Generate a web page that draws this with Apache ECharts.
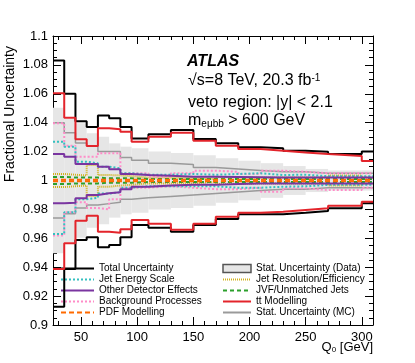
<!DOCTYPE html>
<html>
<head>
<meta charset="utf-8">
<script src="https://cdn.jsdelivr.net/npm/echarts@6/dist/echarts.min.js"></script>
<style>
  html, body { margin: 0; padding: 0; background: #fff; }
  #chart { width: 415px; height: 363px; }
</style>
</head>
<body>
<div id="chart"></div>
<script>
// bin edges of Q0 [GeV]
const binEdges = [25, 35, 45, 55, 65, 75, 85, 95, 110, 130, 150, 170, 190, 210, 230, 250, 270, 300, 310];

// upper / lower edges of each component, one value per bin
const totalUp = [1.083, 1.060, 1.041, 1.037, 1.045, 1.043, 1.037, 1.029, 1.032, 1.035, 1.0287, 1.0257, 1.023, 1.0223, 1.0206, 1.0199, 1.0183, 1.020];
const totalDn = [0.9127, 0.9388, 0.9588, 0.9607, 0.9538, 0.9554, 0.9607, 0.9692, 0.9673, 0.9646, 0.9692, 0.9734, 0.9766, 0.9766, 0.9777, 0.9789, 0.9808, 0.9842];
const ttUp = [1.0603, 1.0435, 1.0285, 1.0239, 1.0361, 1.0354, 1.0338, 1.0269, 1.0303, 1.033, 1.0275, 1.0241, 1.0218, 1.0206, 1.0193, 1.0183, 1.017, 1.0135];
const ttDn = [0.9388, 0.9565, 0.9722, 0.9756, 0.9646, 0.9639, 0.9662, 0.9727, 0.970, 0.966, 0.970, 0.975, 0.9777, 0.9784, 0.9796, 0.9808, 0.9826, 0.9853];
const statDataUp = [1.0504, 1.0425, 1.0396, 1.0327, 1.0303, 1.0257, 1.0234, 1.0223, 1.020, 1.019, 1.0175, 1.0154, 1.0137, 1.012, 1.010, 1.008, 1.007, 1.007];
const statDataDn = [0.9496, 0.9575, 0.9604, 0.9673, 0.9697, 0.9743, 0.9766, 0.9777, 0.980, 0.981, 0.9825, 0.9846, 0.9863, 0.988, 0.990, 0.992, 0.993, 0.993];
const statMCUp = [1.040, 1.033, 1.026, 1.024, 1.020, 1.020, 1.016, 1.014, 1.012, 1.011, 1.009, 1.008, 1.007, 1.006, 1.006, 1.005, 1.005, 1.005];
const statMCDn = [0.974, 0.977, 0.981, 0.983, 0.984, 0.985, 0.987, 0.988, 0.989, 0.990, 0.991, 0.992, 0.993, 0.994, 0.994, 0.995, 0.995, 0.995];
const bkgUp = [1.0396, 1.024, 1.0165, 1.0165, 1.0188, 1.0188, 1.005, 1.005, 1.0026, 1.005, 1.0068, 1.006, 1.0045, 1.0068, 1.006, 1.005, 1.005, 1.005];
const bkgDn = [0.962, 0.978, 0.985, 0.981, 0.980, 0.987, 0.995, 0.995, 0.996, 0.995, 0.994, 0.994, 0.995, 0.9923, 0.9946, 0.9934, 0.9934, 0.995];
const jesUp = [1.0269, 1.0234, 1.013, 1.0119, 1.0096, 1.0084, 1.005, 1.004, 1.004, 1.0045, 1.004, 1.0045, 1.005, 1.0038, 1.004, 1.003, 1.003, 1.003];
const jesDn = [0.963, 0.978, 0.987, 0.988, 0.991, 0.992, 0.995, 0.996, 0.996, 0.996, 0.996, 0.995, 0.995, 0.9957, 0.996, 0.997, 0.997, 0.997];
const detUp = [1.0183, 1.0165, 1.0114, 1.0114, 1.0096, 1.0078, 1.0045, 1.0038, 1.0033, 1.0026, 1.0026, 1.0024, 1.0022, 1.002, 1.002, 1.002, 1.002, 1.002];
const detDn = [0.9842, 0.9846, 0.9877, 0.990, 0.9911, 0.9918, 0.9939, 0.9957, 0.9965, 0.997, 0.997, 0.9975, 0.998, 0.998, 0.998, 0.998, 0.998, 0.998];
const jerUp = [1.0045, 1.004, 1.0035, 1.0107, 1.0038, 1.0035, 1.003, 1.002, 1.002, 1.002, 1.001, 1.0025, 1.002, 1.002, 1.002, 1.002, 1.0035, 1.002];
const jerDn = [0.9955, 0.996, 0.9965, 0.9893, 0.9957, 0.9965, 0.997, 0.998, 0.998, 0.998, 0.999, 0.9975, 0.998, 0.998, 0.998, 0.998, 0.9965, 0.998];
const jvfUp = [1.0025, 1.002, 1.002, 1.002, 1.0015, 1.0015, 1.0015, 1.001, 1.001, 1.001, 1.001, 1.001, 1.001, 1.001, 1.001, 1.001, 1.001, 1.001];
const jvfDn = [0.9975, 0.998, 0.998, 0.998, 0.9985, 0.9985, 0.9985, 0.999, 0.999, 0.999, 0.999, 0.999, 0.999, 0.999, 0.999, 0.999, 0.999, 0.999];
const pdfUp = [1.0005, 1.0005, 1.0005, 1.0005, 1.0005, 1.0005, 1.0005, 1.0005, 1.0005, 1.0005, 1.0005, 1.0005, 1.0005, 1.0005, 1.0005, 1.0005, 1.0005, 1.0005];
const pdfDn = [0.9995, 0.9995, 0.9995, 0.9995, 0.9995, 0.9995, 0.9995, 0.9995, 0.9995, 0.9995, 0.9995, 0.9995, 0.9995, 0.9995, 0.9995, 0.9995, 0.9995, 0.9995];

const xMajor = [50, 100, 150, 200, 250, 300];
const xMinor = [30, 40, 60, 70, 80, 90, 110, 120, 130, 140, 160, 170, 180, 190, 210, 220, 230, 240, 260, 270, 280, 290, 310];

const font = "Liberation Sans, Arial, Helvetica, sans-serif";

// histogram -> points for a step line
function stepData(vals) {
  const d = vals.map((v, i) => [binEdges[i], v]);
  d.push([binEdges[binEdges.length - 1], vals[vals.length - 1]]);
  return d;
}

function histLine(name, vals, color, width, type, z) {
  return {
    name: name,
    type: "line",
    step: "end",
    data: stepData(vals),
    symbol: "none",
    silent: true,
    z: z,
    lineStyle: { color: color, width: width, type: type || "solid", cap: "butt" },
    itemStyle: { color: color },
  };
}

function pair(name, up, dn, color, width, type, z) {
  return [histLine(name, up, color, width, type, z), histLine(name, dn, color, width, type, z)];
}

const bandData = statDataUp.map((v, i) => [binEdges[i], binEdges[i + 1], v, statDataDn[i]]);

const chart = echarts.init(document.getElementById("chart"), null, { renderer: "canvas" });

const majorX = (pos, lbl) => ({
  type: "value", min: 25, max: 310, position: pos,
  axisLine: { show: true, onZero: false, lineStyle: { color: "#000", width: 1 } },
  axisTick: { show: true, inside: true, length: 8, customValues: xMajor, lineStyle: { color: "#000" } },
  axisLabel: { show: lbl, customValues: xMajor, color: "#000", fontSize: 13, fontFamily: font, margin: 6 },
  splitLine: { show: false },
});
const minorX = (pos) => ({
  type: "value", min: 25, max: 310, position: pos,
  axisLine: { show: false },
  axisTick: { show: true, inside: true, length: 4, customValues: xMinor, lineStyle: { color: "#000" } },
  axisLabel: { show: false },
  splitLine: { show: false },
});
const yAx = (pos, lbl) => ({
  type: "value", min: 0.9, max: 1.1, interval: 0.02, position: pos,
  axisLine: { show: true, onZero: false, lineStyle: { color: "#000", width: 1 } },
  axisTick: { show: true, inside: true, length: 8, lineStyle: { color: "#000" } },
  minorTick: { show: true, splitNumber: 4, length: 4, lineStyle: { color: "#000" } },
  axisLabel: { show: lbl, color: "#000", fontSize: 13, fontFamily: font, margin: 5 },
  splitLine: { show: false },
});

const legendText = { fontSize: 10, fontFamily: font, color: "#000", lineHeight: 11 };

chart.setOption({
  animation: false,
  backgroundColor: "#fff",
  grid: { left: 53, right: 42, top: 36, bottom: 38 },
  xAxis: [majorX("bottom", true), minorX("bottom"), majorX("top", false), minorX("top")],
  yAxis: [yAx("left", true), yAx("right", false)],
  legend: [
    {
      left: 60, top: 263, orient: "vertical", padding: 0, itemGap: 0,
      itemWidth: 33, itemHeight: 11, selectedMode: false,
      itemStyle: { opacity: 0 },
      textStyle: legendText,
      data: ["Total Uncertainty", "Jet Energy Scale", "Other Detector Effects", "Background Processes", "PDF Modelling"],
    },
    {
      left: 222, top: 263, orient: "vertical", padding: 0, itemGap: 0,
      itemWidth: 28, itemHeight: 8, selectedMode: false,
      itemStyle: { opacity: 0 },
      textStyle: legendText,
      data: [
        { name: "Stat. Uncertainty (Data)", icon: "rect", itemStyle: { opacity: 1, color: "#e6e6e6", borderColor: "#555", borderWidth: 1.5 } },
        "Jet Resolution/Efficiency", "JVF/Unmatched Jets", "tt Modelling", "Stat. Uncertainty (MC)",
      ],
    },
  ],
  graphic: [
    { type: "text", left: 187, top: 54, style: { text: "ATLAS", font: "italic bold 16px " + font, fill: "#000" } },
    {
      type: "text", left: 188, top: 73,
      style: {
        text: "{a|√s=8 TeV, 20.3 fb}{u|-1}",
        rich: { a: { fontSize: 16, fontFamily: font, verticalAlign: "bottom" }, u: { fontSize: 10, fontFamily: font, verticalAlign: "top" } },
        fill: "#000",
      },
    },
    { type: "text", left: 188, top: 95, style: { text: "veto region: |y| < 2.1", font: "16px " + font, fill: "#000" } },
    {
      type: "text", left: 188, top: 113,
      style: {
        text: "{a|m}{s|eμbb}{a| > 600 GeV}",
        rich: { a: { fontSize: 16, fontFamily: font, verticalAlign: "top" }, s: { fontSize: 10, fontFamily: font, verticalAlign: "bottom" } },
        fill: "#000",
      },
    },
    {
      type: "text", right: 42, top: 341,
      style: {
        text: "{a|Q}{s|0}{a| [GeV]}",
        rich: { a: { fontSize: 13, fontFamily: font, verticalAlign: "top" }, s: { fontSize: 8, fontFamily: font, verticalAlign: "bottom" } },
        fill: "#000",
      },
    },
    {
      type: "text", left: 3, top: 46, rotation: Math.PI / 2,
      style: { text: "Fractional Uncertainty", font: "14px " + font, fill: "#000", align: "right", verticalAlign: "top" },
    },
  ],
  series: [
    {
      name: "Stat. Uncertainty (Data)",
      type: "custom",
      silent: true,
      z: 1,
      data: bandData,
      encode: { x: [0, 1], y: [2, 3] },
      itemStyle: { color: "#e6e6e6" },
      renderItem: function (params, api) {
        const p1 = api.coord([api.value(0), api.value(2)]);
        const p2 = api.coord([api.value(1), api.value(3)]);
        return {
          type: "rect",
          shape: { x: p1[0], y: p1[1], width: p2[0] - p1[0], height: p2[1] - p1[1] },
          style: { fill: "#e6e6e6" },
        };
      },
    },
    ...pair("Stat. Uncertainty (MC)", statMCUp, statMCDn, "#9a9a9a", 1.5, "solid", 2),
    ...pair("Jet Resolution/Efficiency", jerUp, jerDn, "#d2b21c", 2, [1, 1], 3),
    ...pair("JVF/Unmatched Jets", jvfUp, jvfDn, "#2ca02c", 2, [4, 3], 3),
    ...pair("PDF Modelling", pdfUp, pdfDn, "#ff6a00", 2, [5, 3], 3),
    ...pair("Background Processes", bkgUp, bkgDn, "#ff8cc8", 2, [2, 2], 4),
    ...pair("Jet Energy Scale", jesUp, jesDn, "#33c0c0", 2, [2, 2], 4),
    ...pair("Other Detector Effects", detUp, detDn, "#7a35a0", 2, "solid", 5),
    ...pair("Total Uncertainty", totalUp, totalDn, "#000", 2, "solid", 6),
    ...pair("tt Modelling", ttUp, ttDn, "#e3242b", 2, "solid", 7),
  ],
});
</script>
</body>
</html>
